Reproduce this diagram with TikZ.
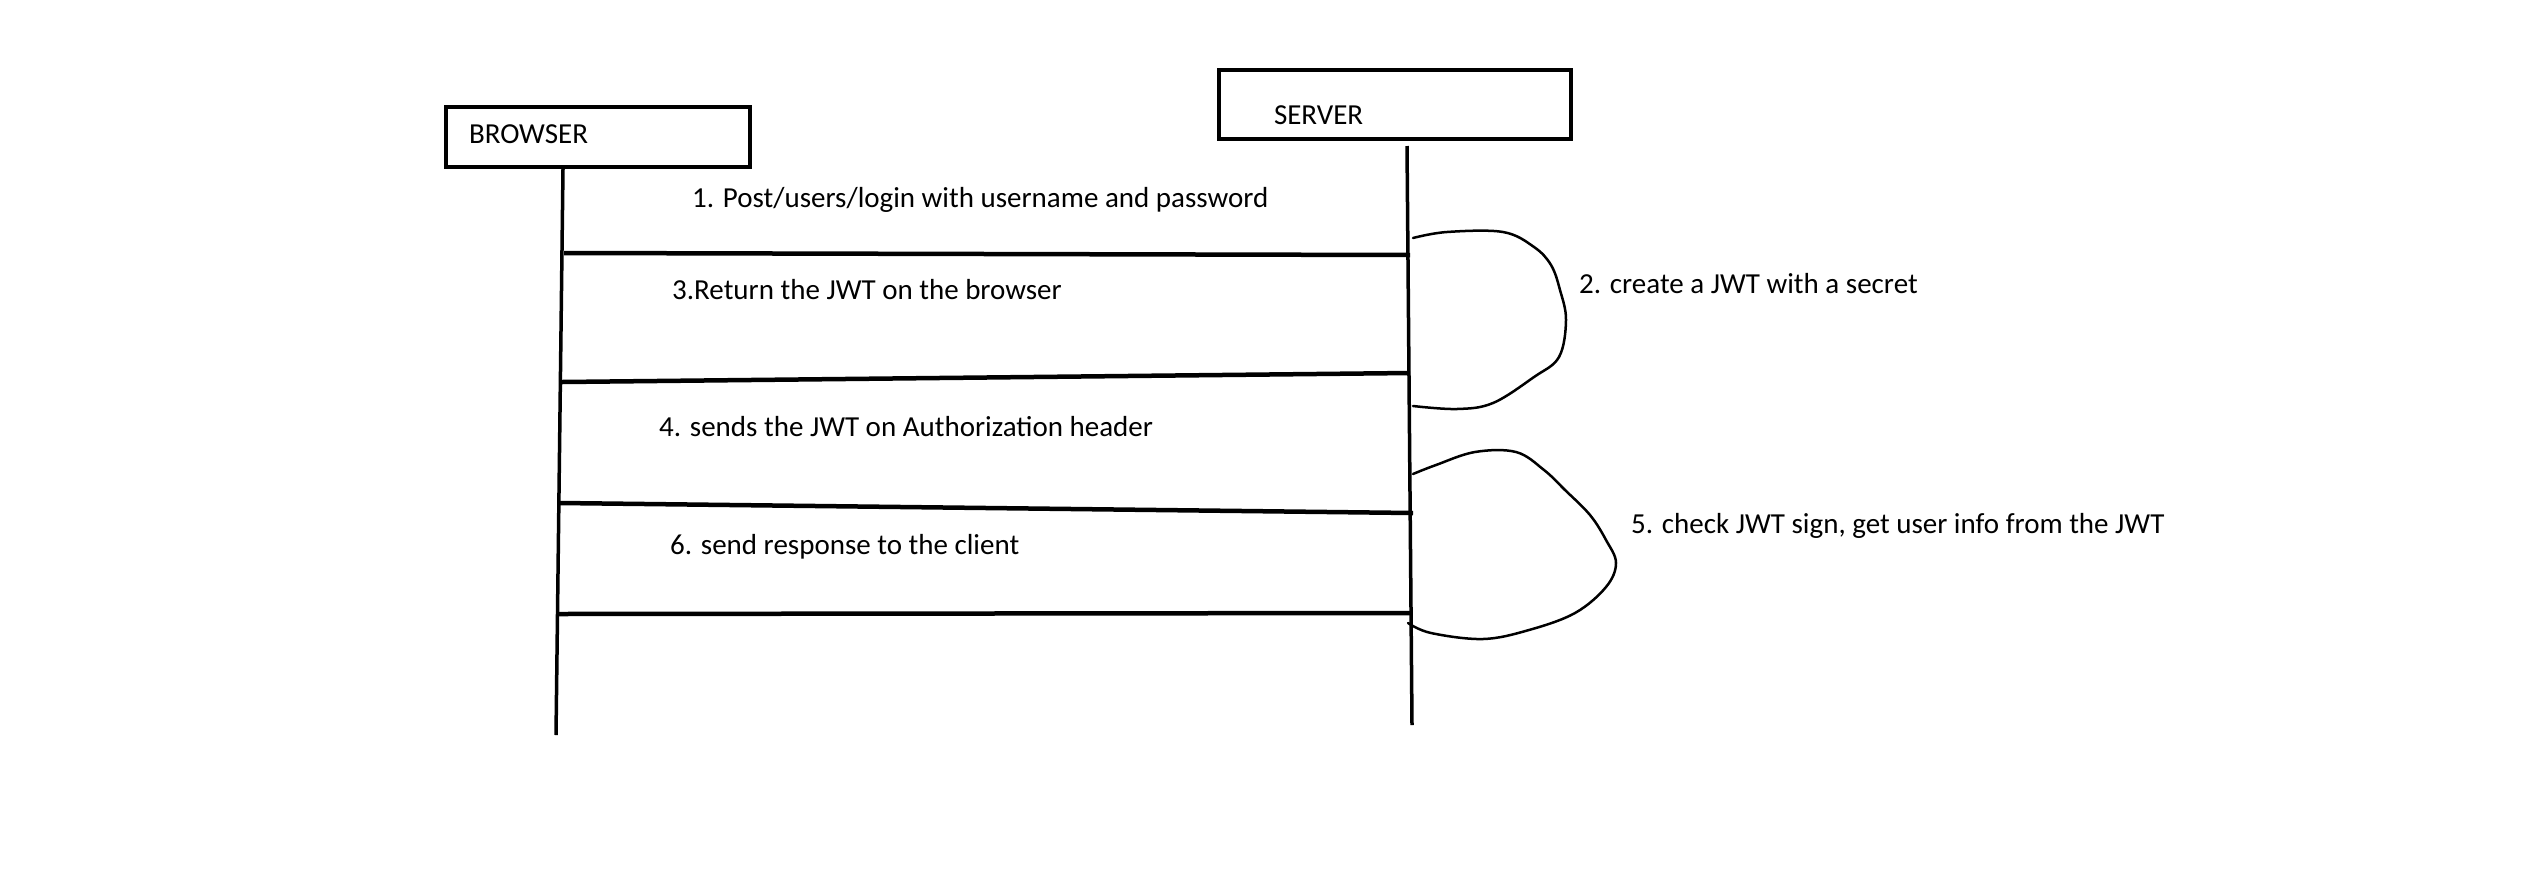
\documentclass[tikz,border=0pt]{standalone}
\usepackage{fontspec}
\setmainfont{Carlito}
\usetikzlibrary{positioning,calc}
\tikzstyle{Actor} = [draw, shape=rectangle, line width=4pt, inner ysep=0pt, align=left]
\tikzstyle{Lifeline} = [line width=3.5pt]
\tikzstyle{Message} = [line width=4.5pt]
\tikzstyle{Loop} = [line width=2.5pt, line join=round, line cap=round]
\tikzstyle{Label} = [anchor=base west, inner sep=0pt]

\begin{document}
\begin{tikzpicture}[x=1pt, y=-1pt]
        \tikzstyle{every node} = [font=\fontsize{29}{35}\selectfont]
        \useasboundingbox (0,0) rectangle (2535,895);

        %%%%% Boxes %%%%%

        \draw node[Actor, text width=258pt, inner xsep=23pt, text height=36pt, text depth=24pt] at (598,137) (browser) {BROWSER};
        \draw node[Actor, text width=242pt, inner xsep=55pt, text height=54pt, text depth=15pt] at (1395,104.5) (server) {SERVER};

        %%%%% Lifelines %%%%%

        \coordinate (bTop) at ($(browser.south west)+(119,0)$);
        \coordinate (bEnd) at (556,735);
        \coordinate (sTop) at ($(server.south west)+(190,5)$);
        \coordinate (sEnd) at (1412,725);

        \draw [Lifeline] (bTop) -- (bEnd);
        \draw [Lifeline] (sTop) -- (sEnd);

        %%%%% Messages %%%%%

        \coordinate (m1a) at (564,253);
        \coordinate (m1b) at (1410,255);
        \coordinate (m2a) at (562,382);
        \coordinate (m2b) at (1410,373);
        \coordinate (m3a) at (560,503);
        \coordinate (m3b) at (1413,513);
        \coordinate (m4a) at (558,614);
        \coordinate (m4b) at (1411,613);

        \draw [Message] (m1a) -- (m1b);
        \draw [Message] (m2a) -- (m2b);
        \draw [Message] (m3a) -- (m3b);
        \draw [Message] (m4a) -- (m4b);

        \node[Label] (msg1) at (692,207) {1. Post/users/login with username and password};
        \node[Label] (msg3) at (672,299) {3.Return the JWT on the browser};
        \node[Label] (msg4) at (659,436) {4. sends the JWT on Authorization header};
        \node[Label] (msg6) at (670,554) {6. send response to the client};

        %%%%% Self Loops on Server %%%%%

        \draw [Loop] plot[smooth, tension=0.6] coordinates {(1413,238) (1447,232) (1503,232) (1534,247) (1551,265) (1560,290) (1566,320) (1559,357) (1534,377) (1493,403) (1457,409) (1413,406)};
        \draw [Loop] plot[smooth, tension=0.6] coordinates {(1413,474) (1436,465) (1475,452) (1516,452) (1544,470) (1565,490) (1590,515) (1606,540) (1616,563) (1606,587) (1575,613) (1529,630) (1483,639) (1431,633) (1408,623)};

        \node[Label] (msg2) at (1579,293) {2. create a JWT with a secret};
        \node[Label] (msg5) at (1631,533) {5. check JWT sign, get user info from the JWT};

\end{tikzpicture}
\end{document}
